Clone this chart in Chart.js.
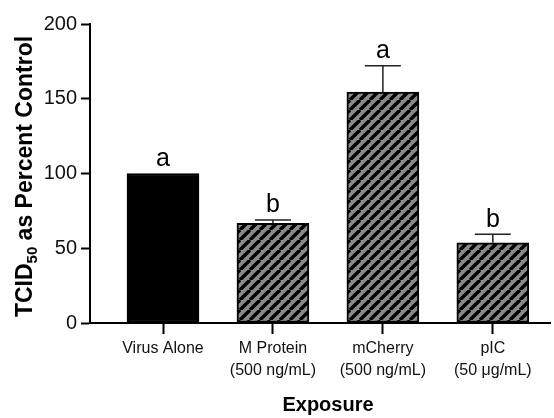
<!DOCTYPE html>
<html>
<head>
<meta charset="utf-8">
<script src="https://cdn.jsdelivr.net/npm/chart.js@4.4.1/dist/chart.umd.min.js"></script>
<style>
  html, body { margin: 0; padding: 0; background: #fff; }
  #wrap { width: 554px; height: 418px; }
</style>
</head>
<body>
<div id="wrap"><canvas id="c" width="554" height="418"></canvas></div>
<script>
// ---- data ----
const categories = [["Virus Alone"], ["M Protein", "(500 ng/mL)"], ["mCherry", "(500 ng/mL)"], ["pIC", "(50 \u03BCg/mL)"]];
const means = [100, 66.7, 154.5, 53.7];
const sem = [0, 2.2, 17.6, 5.6];
const groupLetters = ["a", "b", "a", "b"];
const yTicks = [0, 50, 100, 150, 200];
const yTitleMain = "TCID";
const yTitleSub = "50";
const yTitleRest = " as Percent Control";
const xTitle = "Exposure";

const FONT = "'Liberation Sans', Arial, sans-serif";

function makeHatch() {
  const s = 10;
  const c = document.createElement('canvas');
  c.width = s; c.height = s;
  const g = c.getContext('2d');
  g.fillStyle = '#8a8a8a';
  g.fillRect(0, 0, s, s);
  g.strokeStyle = '#000';
  g.lineWidth = 3.4;
  g.beginPath();
  for (const x0 of [-s, 0, s]) {
    g.moveTo(x0, s);
    g.lineTo(x0 + s, 0);
  }
  g.stroke();
  return g.createPattern(c, 'repeat');
}
const hatch = makeHatch();

const fills = means.map((v, i) => i === 0 ? '#000' : hatch);

const errorBars = {
  id: 'errorBars',
  afterDatasetsDraw(chart) {
    const ctx = chart.ctx;
    const meta = chart.getDatasetMeta(0);
    const y = chart.scales.y;
    ctx.save();
    meta.data.forEach((bar, i) => {
      const topVal = means[i] + sem[i];
      const yTop = y.getPixelForValue(topVal);
      if (sem[i] > 0) {
        ctx.strokeStyle = '#222';
        ctx.lineWidth = 1.5;
        ctx.beginPath();
        ctx.moveTo(bar.x, bar.y);
        ctx.lineTo(bar.x, yTop);
        ctx.moveTo(bar.x - 18, yTop);
        ctx.lineTo(bar.x + 18, yTop);
        ctx.stroke();
      }
      ctx.fillStyle = '#000';
      ctx.font = '25px ' + FONT;
      ctx.textAlign = 'center';
      ctx.textBaseline = 'alphabetic';
      ctx.fillText(groupLetters[i], bar.x, yTop - 7.5);
    });
    ctx.restore();
  }
};

const titles = {
  id: 'titles',
  afterDraw(chart) {
    const ctx = chart.ctx;
    const area = chart.chartArea;
    ctx.save();
    // y title with subscript
    const mainFont = 'bold 23px ' + FONT;
    const subFont = 'bold 15px ' + FONT;
    ctx.font = mainFont;
    const w1 = ctx.measureText(yTitleMain).width;
    const w3 = ctx.measureText(yTitleRest).width;
    ctx.font = subFont;
    const w2 = ctx.measureText(yTitleSub).width;
    const total = w1 + w2 + w3;
    const cy = (area.top + area.bottom) / 2 + 3;
    ctx.translate(32, cy);
    ctx.rotate(-Math.PI / 2);
    ctx.fillStyle = '#000';
    ctx.textBaseline = 'alphabetic';
    ctx.textAlign = 'left';
    let x = -total / 2;
    ctx.font = mainFont;
    ctx.fillText(yTitleMain, x, 0);
    x += w1;
    ctx.font = subFont;
    ctx.fillText(yTitleSub, x, 5);
    x += w2;
    ctx.font = mainFont;
    ctx.fillText(yTitleRest, x, 0);
    ctx.restore();

    ctx.save();
    ctx.font = 'bold 20px ' + FONT;
    ctx.fillStyle = '#000';
    ctx.textAlign = 'center';
    ctx.textBaseline = 'alphabetic';
    ctx.fillText(xTitle, (area.left + area.right) / 2 + 8, 411);
    ctx.restore();
  }
};

new Chart(document.getElementById('c'), {
  type: 'bar',
  data: {
    datasets: [{
      data: means.map((v, i) => ({ x: i, y: v })),
      backgroundColor: fills,
      borderColor: '#000',
      borderWidth: 2,
      borderSkipped: false,
      barThickness: 72
    }]
  },
  options: {
    responsive: false,
    animation: false,
    events: [],
    layout: { padding: { top: 24, right: 4, left: 0, bottom: 0 } },
    plugins: { legend: { display: false }, tooltip: { enabled: false } },
    scales: {
      x: {
        type: 'linear',
        offset: false,
        min: -0.664,
        max: 3.52,
        afterBuildTicks(scale) {
          scale.ticks = categories.map((c, i) => ({ value: i }));
        },
        afterFit(scale) { scale.height = 95; },
        ticks: {
          autoSkip: false,
          maxRotation: 0,
          minRotation: 0,
          padding: 4,
          color: '#111',
          font: { family: FONT, size: 16, lineHeight: 1.35 },
          callback: (v) => categories[v]
        },
        grid: {
          offset: false,
          drawOnChartArea: false,
          tickLength: 11,
          tickWidth: 2,
          tickColor: '#000'
        },
        border: { color: '#000', width: 2 }
      },
      y: {
        min: 0,
        max: 200,
        afterBuildTicks(scale) {
          scale.ticks = yTicks.map(v => ({ value: v }));
        },
        afterFit(scale) { scale.width = 90; },
        ticks: {
          padding: 4,
          color: '#111',
          font: { family: FONT, size: 20 }
        },
        grid: {
          drawOnChartArea: false,
          tickLength: 9,
          tickWidth: 2,
          tickColor: '#000'
        },
        border: { color: '#000', width: 2 }
      }
    }
  },
  plugins: [errorBars, titles]
});
</script>
</body>
</html>
